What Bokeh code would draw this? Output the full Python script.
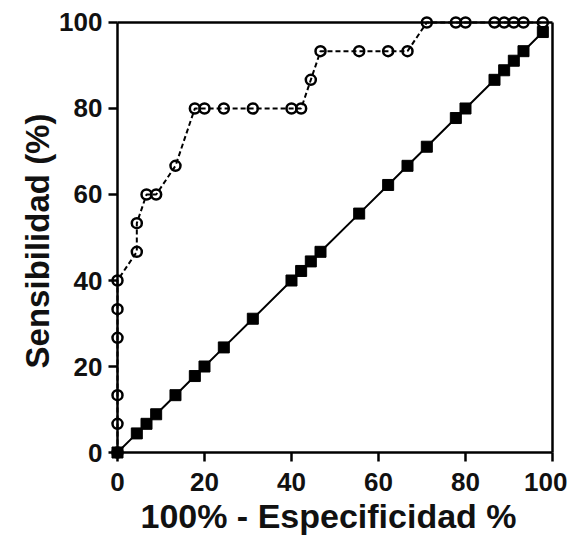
from bokeh.plotting import figure
from bokeh.models import Range1d, FixedTicker
from bokeh.embed import file_html
from bokeh.resources import INLINE

# ROC curve (open circles, dashed line)
roc_x = [0, 0, 0, 0, 0, 0, 4.44, 4.44, 6.67, 8.89, 13.33, 17.78, 20, 24.44, 31.11,
         40, 42.22, 44.44, 46.67, 55.56, 62.22, 66.67, 71.11, 77.78, 80, 86.67,
         88.89, 91.11, 93.33, 97.78]
roc_y = [0, 6.67, 13.33, 26.67, 33.33, 40, 46.67, 53.33, 60, 60, 66.67, 80, 80, 80, 80,
         80, 80, 86.67, 93.33, 93.33, 93.33, 93.33, 100, 100, 100, 100,
         100, 100, 100, 100]

# Reference line (filled squares, solid line)
ref_x = [0, 4.44, 6.67, 8.89, 13.33, 17.78, 20, 24.44, 31.11, 40, 42.22, 44.44, 46.67,
         55.56, 62.22, 66.67, 71.11, 77.78, 80, 86.67, 88.89, 91.11, 93.33, 97.78]
ref_y = [0, 4.44, 6.67, 8.89, 13.33, 17.78, 20, 24.44, 31.11, 40, 42.22, 44.44, 46.67,
         55.56, 62.22, 66.67, 71.11, 77.78, 80, 86.67, 88.89, 91.11, 93.33, 97.78]

x_ticks = [0, 20, 40, 60, 80, 100]
y_ticks = [0, 20, 40, 60, 80, 100]
AX_MIN, AX_MAX = 0, 100
x_title = "100% - Especificidad %"
y_title = "Sensibilidad (%)"

FONT = "Liberation Sans"
X0, X1 = -3.448, 100.46
Y0, Y1 = -3.488, 101.86
TICK_X = 2.07   # 9 px outward tick along x
TICK_Y = 2.09   # 9 px outward tick along y

p = figure(width=567, height=539, output_backend="svg", toolbar_location=None,
           x_range=Range1d(X0, X1), y_range=Range1d(Y0, Y1),
           min_border_left=102, min_border_right=13, min_border_top=14,
           min_border_bottom=72)
p.background_fill_color = "white"
p.border_fill_color = "white"
p.outline_line_color = None
p.grid.visible = False

for ax, ticks in ((p.xaxis, x_ticks), (p.yaxis, y_ticks)):
    ax.ticker = FixedTicker(ticks=ticks)
    ax.axis_line_color = None
    ax.major_tick_line_color = None
    ax.major_tick_in = 0
    ax.major_tick_out = 0
    ax.minor_tick_line_color = None
    ax.major_label_text_font = FONT
    ax.major_label_text_font_style = "bold"
    ax.major_label_text_font_size = "26px"
    ax.major_label_text_color = "#111111"
    ax.axis_label_text_font = FONT
    ax.axis_label_text_font_style = "bold"
    ax.axis_label_text_color = "#111111"

p.xaxis.axis_label = x_title
p.yaxis.axis_label = y_title
p.xaxis.axis_label_text_font_size = "34px"
p.yaxis.axis_label_text_font_size = "33px"
p.xaxis.major_label_standoff = 5
p.yaxis.major_label_standoff = 0
p.xaxis.axis_label_standoff = 3
p.yaxis.axis_label_standoff = 0

# box frame lines (axes at 0, border at 100)
p.segment(x0=[AX_MIN, AX_MIN, AX_MIN, AX_MAX], y0=[AX_MIN, AX_MIN, AX_MAX, AX_MIN],
          x1=[AX_MAX, AX_MIN, AX_MAX, AX_MAX], y1=[AX_MIN, AX_MAX, AX_MAX, AX_MAX],
          line_color="black", line_width=2.5)
# tick marks, outward from the axis lines
p.segment(x0=[AX_MIN - TICK_X] * len(y_ticks), y0=y_ticks,
          x1=[AX_MIN] * len(y_ticks), y1=y_ticks,
          line_color="black", line_width=2.5)
p.segment(x0=x_ticks, y0=[AX_MIN - TICK_Y] * len(x_ticks),
          x1=x_ticks, y1=[AX_MIN] * len(x_ticks),
          line_color="black", line_width=2.5)

# reference diagonal
p.line(ref_x, ref_y, line_color="black", line_width=2)
p.scatter(ref_x, ref_y, marker="square", size=11, fill_color="black", line_color="black")

# ROC curve
p.line(roc_x, roc_y, line_color="black", line_width=2, line_dash="5 3")
p.scatter(roc_x, roc_y, marker="circle", size=10, fill_color=None,
          line_color="black", line_width=2.5)

open("out.html", "w").write(file_html(p, INLINE))
